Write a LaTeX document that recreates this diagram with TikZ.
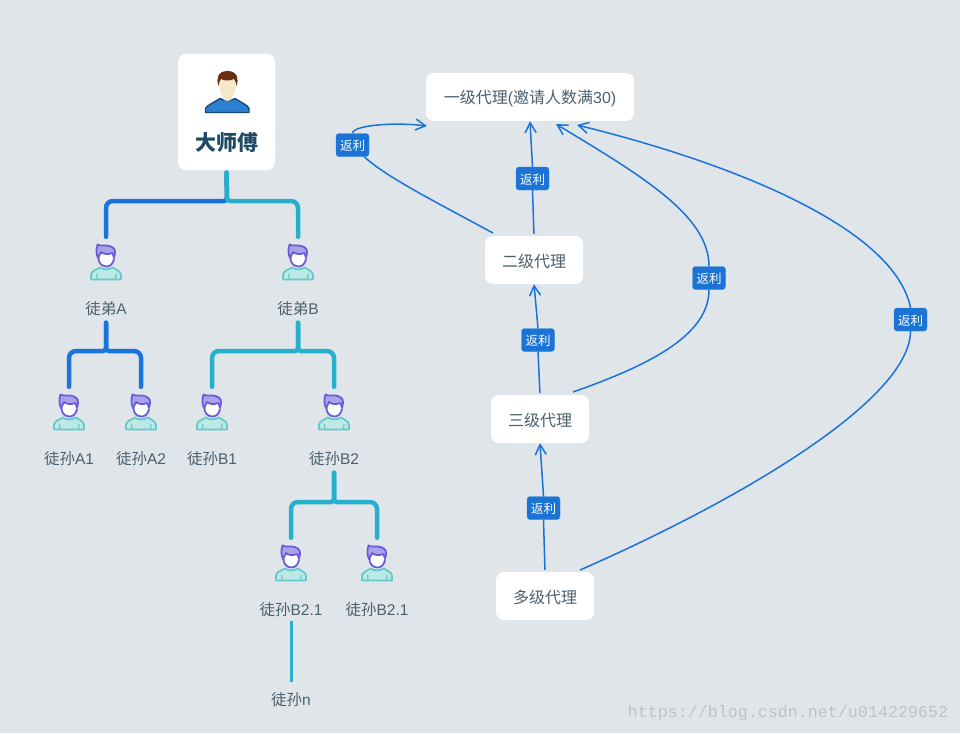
\documentclass[tikz,border=0pt]{standalone}
\usepackage{fontspec}
\setmainfont{Noto Sans CJK SC}
\newfontfamily\latinfont{Liberation Sans}
\newfontfamily\markfont{Liberation Mono}
\newcommand{\lat}[1]{{\latinfont #1}}
\usepackage{xcolor}
\definecolor{pagegrey}{HTML}{E0E5EA}
\definecolor{bondblue}{HTML}{1A73DA}
\definecolor{bondcyan}{HTML}{26B0CC}
\definecolor{tagblue}{HTML}{1A73D5}
\definecolor{textslate}{HTML}{4C606E}
\definecolor{masterink}{HTML}{1F4A63}
\definecolor{hairline}{HTML}{6B5BD9}
\definecolor{hairfill}{HTML}{A9A4EA}
\definecolor{bodyline}{HTML}{66C8C8}
\definecolor{bodyfill}{HTML}{BCE9E6}
\definecolor{mentorhair}{HTML}{6B2F10}
\definecolor{mentorskin}{HTML}{F3E8CB}
\definecolor{mentorcoat}{HTML}{2A7FD0}
\definecolor{mentorline}{HTML}{174A75}
\usetikzlibrary{arrows, arrows.meta}
\usetikzlibrary{positioning}
\tikzset{
	whitebox/.style={fill=white, rounded corners=8pt, inner sep=0pt, text=textslate, text height=14pt, text depth=0pt, font=\fontsize{16}{16}\selectfont},
	tagbox/.style={fill=tagblue, draw=tagblue!85!white, rounded corners=3pt, minimum width=33pt, minimum height=23pt, inner sep=0pt, text=white, text height=11pt, text depth=0pt, font=\fontsize{12.5}{12.5}\selectfont},
	pupilname/.style={minimum height=24pt, inner sep=0pt, text=textslate, text height=13pt, text depth=0pt, font=\fontsize{15.5}{15.5}\selectfont},
	pupilicon/.style={minimum width=32pt, minimum height=50pt, inner sep=0pt},
	bond/.style={line width=4.5pt, line cap=round, shorten <=2.5pt},
	curve/.style={bondblue, line width=1.5pt},
	rebate/.style={curve, -{Straight Barb[length=10pt, width=11pt, line width=1.5pt]}},
	pics/pupil/.style={code={
		%body
		\draw[fill=bodyfill, draw=bodyline, line width=1.8pt, line join=round] (-15,17.5) -- (-15,13) .. controls (-15,9) and (-10,8) .. (-6,5.5) .. controls (-3,8) and (3,8) .. (7,5.5) .. controls (10,8) and (15,9) .. (15,13) -- (15,17.5) -- cycle;
		\draw[bodyline, line width=1.2pt] (-9.5,12) -- (-9,17) (10,12) -- (9.5,17);
		%face
		\fill[white] (-7.5,-8) .. controls (-8,0) and (-5,4.5) .. (0.5,4.5) .. controls (5.5,4.5) and (8.5,0) .. (8,-8) -- cycle;
		\draw[hairline, line width=1.8pt] (-7.5,-5) .. controls (-8,0) and (-5,4.5) .. (0.5,4.5) .. controls (4,4.5) and (7,2) .. (8,-3);
		%hair
		\draw[fill=hairfill, draw=hairline, line width=1.8pt, line join=round] (-8,-4) .. controls (-10,-8) and (-10,-13) .. (-8.5,-17.5) .. controls (-5,-15.5) and (-2,-17) .. (1,-16.5) .. controls (5,-16) and (10,-14) .. (9,-9) .. controls (9,-7) and (8.5,-6) .. (8,-4) .. controls (7.5,-6) and (7,-8) .. (6,-9) .. controls (2,-7) and (-3,-8) .. (-5,-10) .. controls (-6,-8) and (-7,-6) .. (-8,-4) -- cycle;
	}},
	pics/mentor/.style={code={
		%shoulders
		\draw[fill=mentorcoat, draw=mentorline, line width=1.4pt, line join=round] (-21.5,20.5) -- (-21.5,16.5) .. controls (-20,13) and (-12,10) .. (-7,6.5) .. controls (-3,9) and (4,9) .. (8,6.5) .. controls (13,10) and (21,13) .. (22,16.5) -- (22,20.5) -- cycle;
		%head
		\fill[mentorskin] (-7.5,-12) .. controls (-8,-2) and (-7,2) .. (-4,5) -- (-4,7) .. controls (-1,9.5) and (2,9.5) .. (5,7) -- (5,5) .. controls (8,2) and (8.5,-2) .. (8,-12) -- cycle;
		%hair
		\fill[mentorhair] (-8.5,-6) .. controls (-11,-12) and (-10,-21) .. (0.5,-21) .. controls (11,-21) and (12,-12) .. (9.5,-6) .. controls (9,-9) and (8.5,-11) .. (7,-13) .. controls (3,-11) and (-3,-11) .. (-6,-13) .. controls (-7.5,-11) and (-8,-9) .. (-8.5,-6) -- cycle;
	}},
}

\begin{document}
\begin{tikzpicture}[x=1pt, y=-1pt]
	\fill[pagegrey] (0,0) rectangle (960,733);
	\useasboundingbox (0,0) rectangle (960,733);

	%left tree, boxes and people
	\node[whitebox, minimum width=97pt, minimum height=116pt] (master) at (226.5,112) {};
	\pic at (227,92) {mentor};
	\node[inner sep=0pt, text=masterink, font=\fontsize{21}{21}\selectfont\bfseries] (mastername) at (226.5,142) {大师傅};
	\foreach \who/\x/\y in {A/106/262, B/298/262, Aa/69/412, Ab/141/412, Ba/212/412, Bb/334/412, Bc/291/563, Bd/377/563}
	{
		\node[pupilicon] (icon\who) at (\x,\y) {};
		\pic at (\x,\y) {pupil};
	}
	\node[pupilname] (nameA) at (106,308) {徒弟\lat{A}};
	\node[pupilname] (nameB) at (298,308) {徒弟\lat{B}};
	\node[pupilname] (nameAa) at (69,458) {徒孙\lat{A1}};
	\node[pupilname] (nameAb) at (141,458) {徒孙\lat{A2}};
	\node[pupilname] (nameBa) at (212,458) {徒孙\lat{B1}};
	\node[pupilname] (nameBb) at (334,458) {徒孙\lat{B2}};
	\node[pupilname] (nameBc) at (291,609) {徒孙\lat{B2.1}};
	\node[pupilname] (nameBd) at (377,609) {徒孙\lat{B2.1}};
	\node[pupilname] (nameN) at (291,699) {徒孙\lat{n}};

	%left tree, bonds
	\coordinate (barM) at (227,201);
	\coordinate (barA) at (106,351);
	\coordinate (barB) at (298,351);
	\coordinate (barC) at (334,502);
	\draw[bond, bondblue, rounded corners=3pt] (master.south) -- (barM) -- ++(-12,0) [rounded corners=7pt] -| (iconA.north);
	\draw[bond, bondcyan, rounded corners=3pt] (master.south) -- (barM) -- ++(12,0) [rounded corners=7pt] -| (iconB.north);
	\draw[bond, bondblue, rounded corners=3pt] (nameA.south) -- (barA) -- ++(-12,0) [rounded corners=7pt] -| (iconAa.north);
	\draw[bond, bondblue, rounded corners=3pt] (nameA.south) -- (barA) -- ++(12,0) [rounded corners=7pt] -| (iconAb.north);
	\draw[bond, bondcyan, rounded corners=3pt] (nameB.south) -- (barB) -- ++(-12,0) [rounded corners=7pt] -| (iconBa.north);
	\draw[bond, bondcyan, rounded corners=3pt] (nameB.south) -- (barB) -- ++(12,0) [rounded corners=7pt] -| (iconBb.north);
	\draw[bond, bondcyan, rounded corners=3pt] (nameBb.south) -- (barC) -- ++(-12,0) [rounded corners=7pt] -| (iconBc.north);
	\draw[bond, bondcyan, rounded corners=3pt] (nameBb.south) -- (barC) -- ++(12,0) [rounded corners=7pt] -| (iconBd.north);
	\draw[bondcyan, line width=3pt, shorten >=5pt] (nameBc.south) -- (nameN.north);

	%right side, levels
	\node[whitebox, minimum width=208pt, minimum height=48pt] (levelone) at (530,97) {一级代理\lat{(}邀请人数满\lat{30)}};
	\node[whitebox, minimum width=98pt, minimum height=48pt] (leveltwo) at (534,260) {二级代理};
	\node[whitebox, minimum width=98pt, minimum height=48pt] (levelthree) at (540,419) {三级代理};
	\node[whitebox, minimum width=98pt, minimum height=48pt] (levelmany) at (545,596) {多级代理};

	%right side, tags
	\node[tagbox] (tagloop) at (352.5,145) {返利};
	\node[tagbox] (tagtwo) at (532.5,178.5) {返利};
	\node[tagbox] (tagthree) at (538,340) {返利};
	\node[tagbox] (tagmany) at (543.5,508) {返利};
	\node[tagbox] (tagfar) at (709,278) {返利};
	\node[tagbox] (tagfarther) at (910.5,319.5) {返利};

	%right side, free ends of the arrows
	\coordinate (tipone) at (427,126);
	\coordinate (tiptwo) at (556,124);
	\coordinate (tipthree) at (577,125);
	\coordinate (startone) at (493,233);
	\coordinate (starttwo) at (573,392);
	\coordinate (startthree) at (580,570);

	%right side, arrows
	\draw[curve, shorten <=2pt] (leveltwo.north) -- (tagtwo.south);
	\draw[rebate] (tagtwo.north) -- (levelone.south);
	\draw[curve, shorten <=2pt] (levelthree.north) -- (tagthree.south);
	\draw[rebate] (tagthree.north) -- (leveltwo.south);
	\draw[curve, shorten <=2pt] (levelmany.north) -- (tagmany.south);
	\draw[rebate] (tagmany.north) -- (levelthree.south);
	\draw[curve] (startone) .. controls (430,199) and (385,176) .. (tagloop.-45);
	\draw[rebate] (tagloop.north) .. controls (353,125) and (395,122) .. (tipone);
	\draw[curve] (starttwo) .. controls (650,365) and (709,335) .. (tagfar.south);
	\draw[rebate] (tagfar.north) .. controls (709,215) and (640,175) .. (tiptwo);
	\draw[curve] (startthree) .. controls (740,500) and (910,400) .. (tagfarther.south);
	\draw[rebate] (tagfarther.north) .. controls (895,230) and (740,165) .. (tipthree);

	%watermark
	\node[inner sep=0pt, text=black!15!pagegrey, font=\markfont\fontsize{16.67}{16.67}\selectfont] (watermark) at (788,713) {https://blog.csdn.net/u014229652};
\end{tikzpicture}
\end{document}
